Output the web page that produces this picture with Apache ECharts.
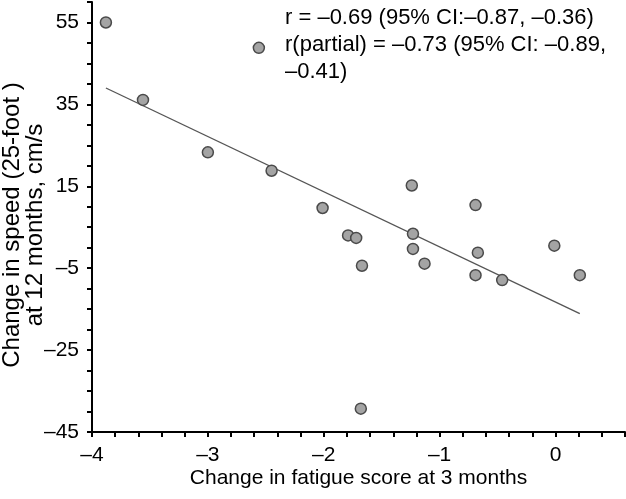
<!DOCTYPE html>
<html>
<head>
<meta charset="utf-8">
<script src="https://cdn.jsdelivr.net/npm/echarts@6/dist/echarts.min.js"></script>
<style>
html,body{margin:0;padding:0;background:#fff;}
#chart{width:626px;height:499px;}
</style>
</head>
<body>
<div id="chart"></div>
<script>
// Data
var fatigueChange = [-3.88, -3.56, -2.56, -3.00, -2.45, -2.01, -1.24, -0.69, -1.79, -1.72, -1.23, -1.23, -0.01, -0.67, -1.67, -1.13, -0.69, -0.46, 0.21, -1.68];
var speedChange   = [55.0, 36.1, 48.8, 23.3, 18.8, 9.7, 15.2, 10.4, 3.0, 2.4, 3.4, -0.3, 0.5, -1.2, -4.4, -3.9, -6.7, -7.9, -6.7, -39.3];
var fitLineX = [-3.88, 0.21];
var fitLineY = [39.0, -16.1];
var xTickLabels = [-4, -3, -2, -1, 0];
var yTickLabels = [55, 35, 15, -5, -25, -45];
var annotationLines = [
  "r = \u20130.69 (95% CI:\u20130.87, \u20130.36)",
  "r(partial) = \u20130.73 (95% CI: \u20130.89,",
  "\u20130.41)"
];

var FONT = "'Liberation Sans', Arial, Helvetica, sans-serif";
function fmt(v){ return v < 0 ? "\u2013" + Math.abs(v) : String(v); }
function near(v, list){ for (var i=0;i<list.length;i++){ if (Math.abs(v-list[i])<1e-6) return list[i]; } return null; }

var points = fatigueChange.map(function(x,i){ return [x, speedChange[i]]; });
var linePts = fitLineX.map(function(x,i){ return [x, fitLineY[i]]; });

var chart = echarts.init(document.getElementById('chart'), null, {renderer:'canvas'});
chart.setOption({
  animation:false,
  backgroundColor:'#fff',
  grid:{left:92, right:1, top:2, bottom:67, containLabel:false, outerBoundsMode:'none'},
  xAxis:{
    type:'value', min:-4, max:0.6, interval:0.2,
    name:'Change in fatigue score at 3 months', nameLocation:'middle', nameGap:36, nameMoveOverlap:false,
    nameTextStyle:{fontFamily:FONT, fontSize:21, color:'#000'},
    axisLine:{show:true, onZero:false, lineStyle:{color:'#000', width:2}},
    axisTick:{show:true, inside:false, length:5, lineStyle:{color:'#000', width:2}},
    axisLabel:{margin:13, fontFamily:FONT, fontSize:21, color:'#000', showMinLabel:true, showMaxLabel:true, hideOverlap:false,
      formatter:function(v){ var m = near(v, xTickLabels); return m===null ? '' : fmt(m); }},
    splitLine:{show:false}
  },
  yAxis:{
    type:'value', min:-45, max:60, interval:5,
    name:'Change in speed (25-foot )\nat 12 months, cm/s', nameLocation:'middle', nameGap:45, nameMoveOverlap:false,
    nameTextStyle:{fontFamily:FONT, fontSize:24, color:'#000', lineHeight:23, align:'center', padding:[0,16,0,0]},
    axisLine:{show:true, onZero:false, lineStyle:{color:'#000', width:2}},
    axisTick:{show:true, inside:false, length:5, lineStyle:{color:'#000', width:2}},
    axisLabel:{margin:13, fontFamily:FONT, fontSize:21, color:'#000', showMinLabel:true, showMaxLabel:true, hideOverlap:false,
      formatter:function(v){ var m = near(v, yTickLabels); return m===null ? '' : fmt(m); }},
    splitLine:{show:false}
  },
  graphic:[{
    type:'text', left:285, top:4, silent:true,
    style:{text:annotationLines.join('\n'), fontFamily:FONT, fontSize:22, lineHeight:27, fill:'#000'}
  }],
  series:[
    {type:'line', data:linePts, symbol:'none', lineStyle:{color:'#555', width:1.3}, z:2},
    {type:'scatter', data:points, symbol:'circle', symbolSize:11,
      itemStyle:{color:'#a4a4a4', borderColor:'#4a4a4a', borderWidth:1.5, opacity:1}, z:3}
  ]
});
</script>
</body>
</html>
